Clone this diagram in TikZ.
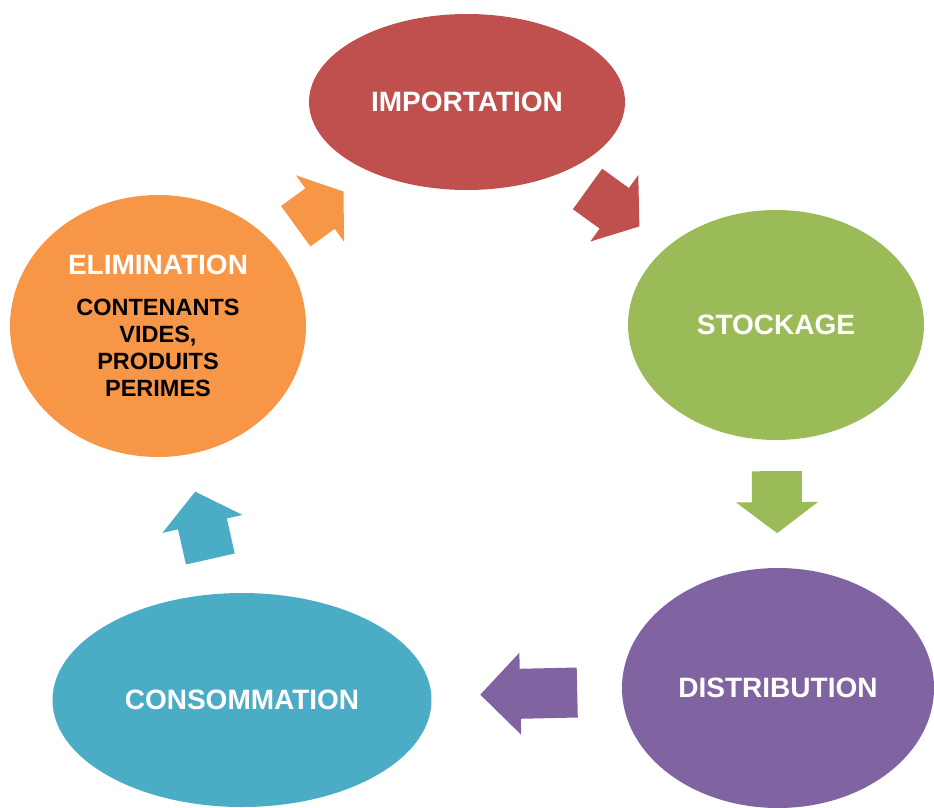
\documentclass[tikz,border=0pt]{standalone}
\usepackage{fontspec}
\setmainfont{Liberation Sans}
\usetikzlibrary{shapes, positioning, calc}

\definecolor{impred}{HTML}{C0504D}
\definecolor{stogreen}{HTML}{9BBB59}
\definecolor{dispurple}{HTML}{8064A2}
\definecolor{conblue}{HTML}{4BACC6}
\definecolor{elimorange}{HTML}{F79646}

\begin{document}
\begin{tikzpicture}
            [x=1pt, y=-1pt,
            stage/.style={ellipse, fill=#1, text=white, inner sep=0pt, align=center,
                          font=\bfseries\fontsize{28}{32}\selectfont},
            pics/flow/.style n args={3}{code={
                \fill[#3] (-#1/2,-25) -- (#1/2-#2,-25) -- (#1/2-#2,-41) -- (#1/2,0)
                          -- (#1/2-#2,41) -- (#1/2-#2,25) -- (-#1/2,25) -- cycle;}}]

            \useasboundingbox (0,0) rectangle (934,807);

            \node[stage=impred, minimum width=316pt, minimum height=176pt] (imp) at (467,102) {IMPORTATION};
            \node[stage=stogreen, minimum width=296pt, minimum height=230pt] (sto) at (776,325) {STOCKAGE};
            \node[stage=dispurple, minimum width=312pt, minimum height=240pt] (dis) at (778,688) {DISTRIBUTION};
            \node[stage=conblue, minimum width=379pt, minimum height=214pt] (con) at (242,700) {CONSOMMATION};
            \node[stage=elimorange, text=black, font=\bfseries\fontsize{23.5}{27}\selectfont,
                  minimum width=296pt, minimum height=262pt] (elim) at (158,326)
                {{\fontsize{28}{32}\selectfont\textcolor{white}{ELIMINATION}}\\[14pt]
                 CONTENANTS\\VIDES,\\PRODUITS\\PERIMES};

            \path (imp.center) -- pic[pos=0.474, sloped, allow upside down]{flow={64}{31}{impred}} (sto.center);
            \path (sto.center) -- pic[pos=0.488, sloped, allow upside down]{flow={62}{31}{stogreen}} (dis.center);
            \path (dis.center) -- pic[pos=0.465, sloped, allow upside down]{flow={97}{40}{dispurple}} (con.center);
            \path (con.center) -- pic[pos=0.467, sloped, allow upside down]{flow={69}{33}{conblue}} (elim.center);
            \path (elim.center) -- pic[pos=0.523, sloped, allow upside down]{flow={59}{29}{elimorange}} (imp.center);

          \end{tikzpicture}
\end{document}
